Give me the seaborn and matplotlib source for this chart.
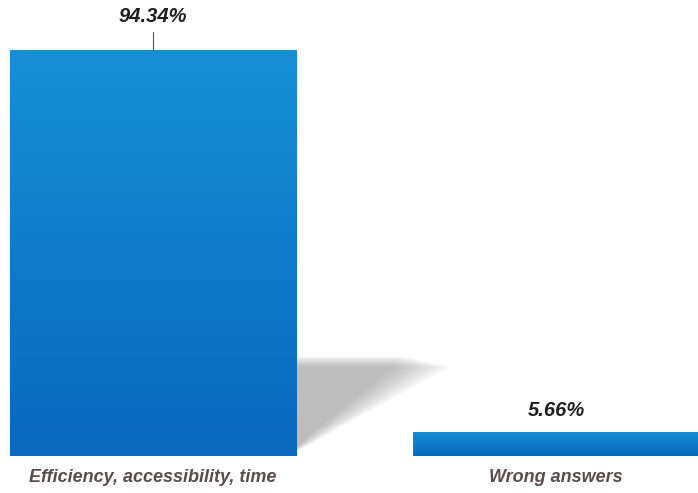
import numpy as np
import pandas as pd
import matplotlib
matplotlib.use("Agg")
import matplotlib.pyplot as plt
import seaborn as sns
from matplotlib.colors import LinearSegmentedColormap
from matplotlib.patches import Polygon

categories = ["Efficiency, accessibility, time", "Wrong answers"]
values = [94.34, 5.66]
value_labels = ["94.34%", "5.66%"]

sns.set_theme(style="white")
plt.rcParams['font.family'] = ['Liberation Sans', 'DejaVu Sans']

W, H = 698, 493
fig = plt.figure(figsize=(W / 100, H / 100), dpi=100)
ax = fig.add_axes([0, 37 / H, 1, 456 / H])

df = pd.DataFrame({"cat": categories, "val": values})
sns.barplot(data=df, x="cat", y="val", ax=ax, width=0.71, color="#0b72c4",
            edgecolor="none", saturation=1)

px_per_unit = 406 / values[0]
ax.set_ylim(0, 456 / px_per_unit)
ax.set_xlim(-0.38, 1.352)
ax.axis("off")

# gradient fill on bars
cmap = LinearSegmentedColormap.from_list("g", ["#0868bd", "#1890d6"])
grad = np.linspace(0, 1, 256).reshape(-1, 1)
for p in ax.patches:
    x0, y0 = p.get_x(), p.get_y()
    w, h = p.get_width(), p.get_height()
    im = ax.imshow(grad, extent=(x0, x0 + w, y0, y0 + h), origin="lower",
                   cmap=cmap, aspect="auto", zorder=p.get_zorder() + 0.1)
    im.set_clip_path(p)

# soft shadow behind first bar
p0 = ax.patches[0]
xr = p0.get_x() + p0.get_width()
ytop_sh = (456 - 362) / px_per_unit
for i in range(14):
    d = (i - 7) * 0.009
    poly = Polygon([(xr, ytop_sh - d * 20), (xr + 0.33 + d, ytop_sh - d * 20),
                    (xr, 1.5 - d * 10)], closed=True, facecolor="#909090",
                   edgecolor="none", alpha=0.055, zorder=0.5)
    ax.add_patch(poly)

# value labels
offsets_px = [33, 21]
for i, (v, lab) in enumerate(zip(values, value_labels)):
    ax.text(i, v + offsets_px[i] / px_per_unit, lab, ha="center", va="center",
            fontsize=14.5, fontweight="bold", fontstyle="italic", color="#1e1e1e")
ax.plot([0, 0], [values[0], values[0] + 18 / px_per_unit], color="#555555", lw=0.8)

# category labels
for i, c in enumerate(categories):
    fig.text((153 + i * 403) / W, 16 / H, c, ha="center", va="center",
             fontsize=13, fontweight="bold", fontstyle="italic", color="#5a4c4e")

fig.savefig("out.png", dpi=100)
